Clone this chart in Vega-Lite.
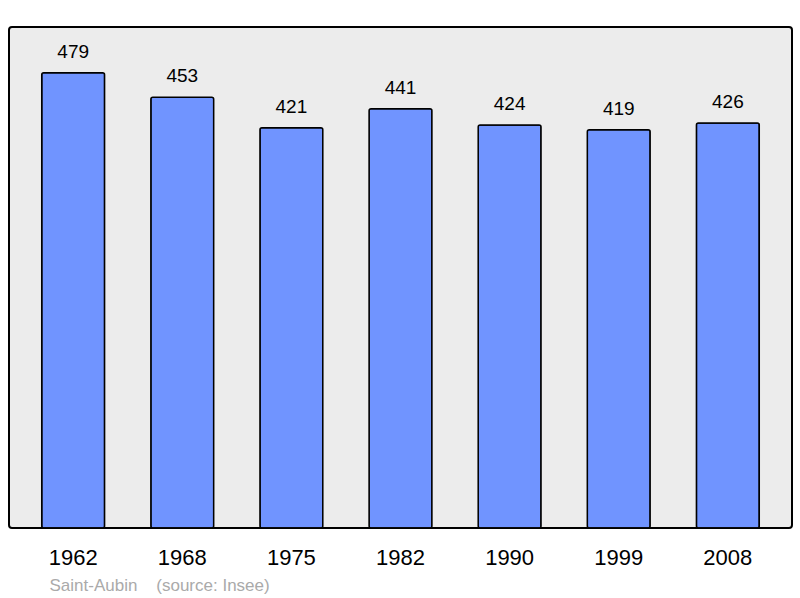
{
  "$schema": "https://vega.github.io/schema/vega-lite/v6.json",
  "width": 783,
  "height": 501,
  "autosize": {"type": "none"},
  "padding": {"left": 9, "top": 27, "right": 8, "bottom": 70},
  "background": "white",
  "config": {
    "font": "Liberation Sans",
    "view": {"fill": "#ececec", "stroke": "#000000", "strokeWidth": 2, "cornerRadius": 3}
  },
  "data": {
    "values": [
      {"year": "1962", "pop": 479},
      {"year": "1968", "pop": 453},
      {"year": "1975", "pop": 421},
      {"year": "1982", "pop": 441},
      {"year": "1990", "pop": 424},
      {"year": "1999", "pop": 419},
      {"year": "2008", "pop": 426}
    ]
  },
  "encoding": {
    "x": {
      "field": "year",
      "type": "ordinal",
      "sort": null,
      "scale": {"paddingInner": 0.424, "paddingOuter": 0.3},
      "axis": {
        "domain": false,
        "ticks": false,
        "tickSize": 0,
        "labelAngle": 0,
        "labelFontSize": 22,
        "labelColor": "#000000",
        "labelBaseline": "alphabetic",
        "labelPadding": 36,
        "title": "Saint-Aubin\u00a0\u00a0\u00a0\u00a0(source: Insee)",
        "titleFontSize": 17,
        "titleFontWeight": "normal",
        "titleColor": "#aaaaaa",
        "titleAlign": "left",
        "titleAnchor": "start",
        "titleBaseline": "alphabetic",
        "titleX": 40,
        "titleY": 62
      }
    },
    "y": {
      "field": "pop",
      "type": "quantitative",
      "scale": {"domain": [0, 527]},
      "axis": null
    }
  },
  "layer": [
    {
      "mark": {"type": "bar", "color": "#7094ff", "stroke": "#000000", "strokeWidth": 1.5, "cornerRadius": 2}
    },
    {
      "mark": {"type": "text", "fontSize": 19, "color": "#000000", "baseline": "alphabetic", "dy": -15},
      "encoding": {"text": {"field": "pop", "type": "quantitative"}}
    }
  ]
}
